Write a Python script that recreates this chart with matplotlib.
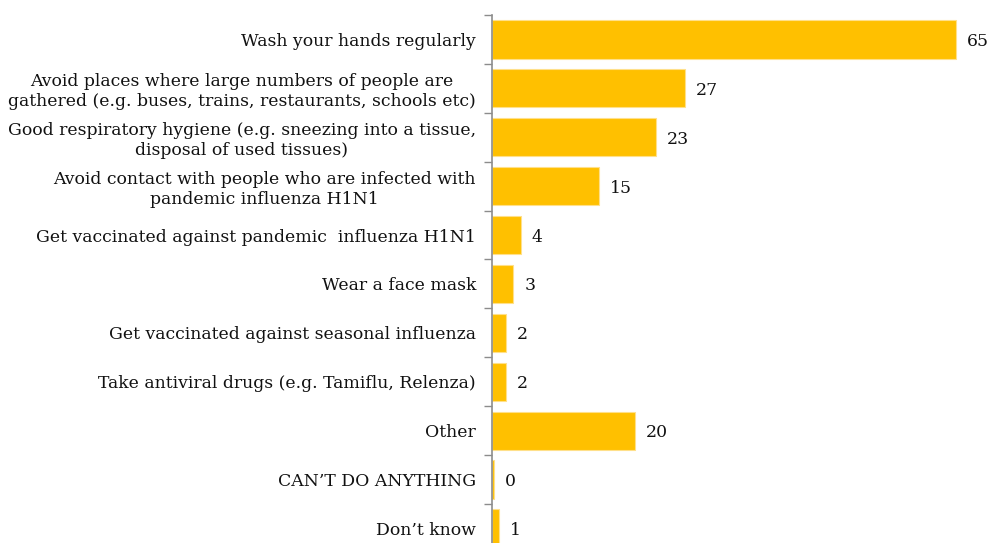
import numpy as np
import matplotlib.pyplot as plt

# categories, top to bottom
labels = [
    "Wash your hands regularly",
    "Avoid places where large numbers of people are\ngathered (e.g. buses, trains, restaurants, schools etc)",
    "Good respiratory hygiene (e.g. sneezing into a tissue,\ndisposal of used tissues)",
    "Avoid contact with people who are infected with\npandemic influenza H1N1",
    "Get vaccinated against pandemic  influenza H1N1",
    "Wear a face mask",
    "Get vaccinated against seasonal influenza",
    "Take antiviral drugs (e.g. Tamiflu, Relenza)",
    "Other",
    "CAN\u2019T DO ANYTHING",
    "Don\u2019t know",
]
values = [65, 27, 23, 15, 4, 3, 2, 2, 20, 0, 1]
# 0 still shows a hairline bar in the source
bar_len = [65, 27, 23, 15, 4, 3, 2, 2, 20, 0.3, 1]

plt.rcParams["font.family"] = ["DejaVu Serif"]

fig = plt.figure(figsize=(9.9, 5.43), dpi=100)
# axes: left at 492px, top at 15px, one band ~48.9px
n = len(labels)
band = 48.9
top_px, left_px = 15, 492
h_px = n * band
ax = fig.add_axes([left_px / 990, (543 - top_px - h_px) / 543, 493 / 990, h_px / 543])

y = np.arange(n)
ax.barh(y, bar_len, height=0.78, color="#FFC000", edgecolor="#FFE08A", linewidth=0.8)
ax.set_ylim(n - 0.5, -0.5)
ax.set_xlim(0, 493 / 7.14)

for yi, v, bl in zip(y, values, bar_len):
    ax.text(bl + 1.5, yi + 0.04, str(v), va="center", ha="left", fontsize=12.4, color="#111111")

ax.set_yticks(y)
ax.set_yticklabels(labels, fontsize=12.4, color="#111111", linespacing=1.2)
for t in ax.get_yticklabels():
    t.set_multialignment("center")
ax.tick_params(axis="y", which="major", length=0, pad=11.5)
ax.set_yticks(np.arange(-0.5, n, 1), minor=True)
ax.tick_params(axis="y", which="minor", length=6, color="#8c8c8c", width=1)

ax.set_xticks([])
for s in ["top", "right", "bottom"]:
    ax.spines[s].set_visible(False)
ax.spines["left"].set_color("#8c8c8c")
ax.spines["left"].set_linewidth(1.2)

fig.savefig("out.png", dpi=100)
